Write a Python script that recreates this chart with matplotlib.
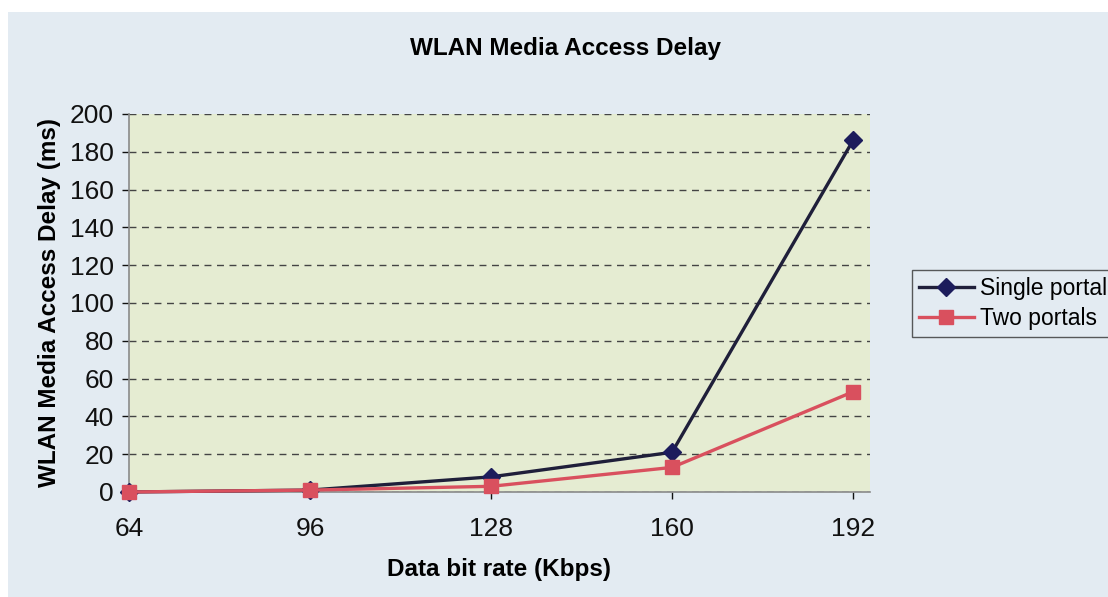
import matplotlib
matplotlib.use("Agg")
import matplotlib.pyplot as plt

# Media access delay vs. data bit rate
bit_rates = [64, 96, 128, 160, 192]
single_portal = [0, 1, 8, 21, 186]
two_portals = [0, 1, 3, 13, 53]
y_ticks = list(range(0, 201, 20))

plt.rcParams['font.family'] = ['Liberation Sans', 'DejaVu Sans']

fig = plt.figure(figsize=(11.08, 5.97), dpi=100)
fig.patch.set_facecolor('white')

# chart area panel
bg = fig.add_axes([8 / 1108, 0, 1 - 8 / 1108, 1 - 12 / 597])
bg.set_facecolor('#e3ebf2')
bg.set_xticks([])
bg.set_yticks([])
for s in bg.spines.values():
    s.set_visible(False)

ax = fig.add_axes([0.1164, 0.1759, 0.6688, 0.6332])
ax.set_facecolor('#e5ecd2')

ax.plot(bit_rates, single_portal, color='#1f1f3a', linewidth=2.4, marker='D',
        markersize=9, markerfacecolor='#1c1c5c', markeredgecolor='#1c1c5c',
        label='Single portal', zorder=3, clip_on=False)
ax.plot(bit_rates, two_portals, color='#d9505e', linewidth=2.4, marker='s',
        markersize=10, markerfacecolor='#d9505e', markeredgecolor='#d9505e',
        label='Two portals', zorder=4, clip_on=False)

ax.set_xlim(64, 195)
ax.set_ylim(0, 200)
ax.set_xticks(bit_rates)
ax.set_yticks(y_ticks)
ax.tick_params(axis='both', labelsize=19, colors='#111111', length=5, width=1,
               direction='out')
ax.tick_params(axis='x', pad=13)
ax.tick_params(axis='y', pad=6)

for side in ['top', 'right']:
    ax.spines[side].set_visible(False)
for side in ['left', 'bottom']:
    ax.spines[side].set_color('#8a8a8a')
    ax.spines[side].set_linewidth(1.2)

ax.yaxis.grid(True, linestyle=(0, (5, 4)), color='#444444', linewidth=1.0)
ax.set_axisbelow(True)

ax.set_xlabel('Data bit rate (Kbps)', fontsize=17.5, fontweight='bold', labelpad=12)
ax.set_ylabel('WLAN Media Access Delay (ms)', fontsize=17.5, fontweight='bold', labelpad=6)
fig.text(0.51, 0.918, 'WLAN Media Access Delay', ha='center', va='center',
         fontsize=17.5, fontweight='bold')

leg = fig.legend(loc='upper left', bbox_to_anchor=(912 / 1108, 1 - 270 / 597),
                 borderaxespad=0, fontsize=16.5, frameon=True, fancybox=False,
                 borderpad=0.3, handlelength=2.4, handletextpad=0.25,
                 labelspacing=0.3)
leg.get_frame().set_edgecolor('#333333')
leg.get_frame().set_facecolor('#e3ebf2')
leg.get_frame().set_linewidth(1.0)

fig.savefig('out.png', dpi=100)
